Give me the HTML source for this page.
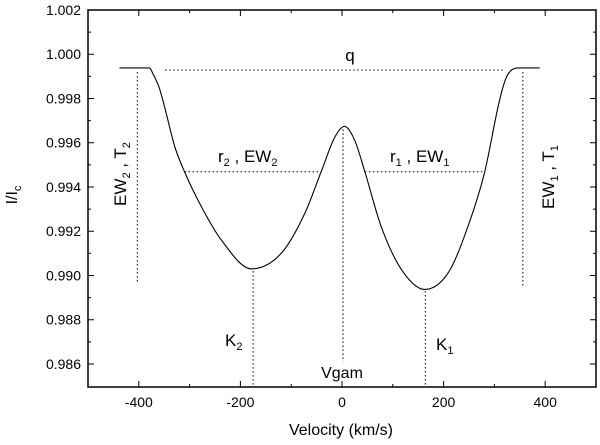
<!DOCTYPE html>
<html><head><style>
body{margin:0;background:#fff}
svg text{font-family:"Liberation Sans",Arial,sans-serif;fill:#000}
</style></head><body>
<svg width="600" height="440" viewBox="0 0 600 440">
<g id="axes"></g>
<g id="marks"></g>
<g font-size="17">
<text x="350" y="61" text-anchor="middle">q</text>
<text x="218" y="162">r<tspan font-size="11" dy="4">2</tspan><tspan dy="-4"> , EW</tspan><tspan font-size="11" dy="4">2</tspan></text>
<text x="390" y="162">r<tspan font-size="11" dy="4">1</tspan><tspan dy="-4"> , EW</tspan><tspan font-size="11" dy="4">1</tspan></text>
<text transform="translate(126,174) rotate(-90)" text-anchor="middle">EW<tspan font-size="11" dy="4">2</tspan><tspan dy="-4"> , T</tspan><tspan font-size="11" dy="4">2</tspan></text>
<text transform="translate(554,177) rotate(-90)" text-anchor="middle">EW<tspan font-size="11" dy="4">1</tspan><tspan dy="-4"> , T</tspan><tspan font-size="11" dy="4">1</tspan></text>
<text x="225" y="346">K<tspan font-size="11" dy="4">2</tspan></text>
<text x="436" y="350">K<tspan font-size="11" dy="4">1</tspan></text>
<text x="342" y="378" text-anchor="middle" font-size="16">Vgam</text>
<text x="341" y="435" text-anchor="middle" font-size="16">Velocity (km/s)</text>
<text transform="translate(17,195) rotate(-90)" text-anchor="middle" font-size="16">I/I<tspan font-size="11" dy="4">c</tspan></text>
</g>
</svg>
<script>
const velocities=[-438,-379,-372,-360,-349,-329,-310,-277,-238,-178,-119,-73,-41,-14,5,25,45,77,117,163,209,248,281,307,318,327,346,389];
const intensities=[.99938,.99938,.99911,.9985,.9976,.99581,.99469,.99312,.99162,.99030,.99102,.99282,.99469,.99626,.99674,.99611,.99469,.99222,.99027,.98937,.99012,.99222,.99469,.9976,.9986,.99911,.99938,.99938];
const xTicks=[-400,-200,0,200,400];
const yTicks=[0.986,0.988,0.990,0.992,0.994,0.996,0.998,1.000,1.002];
const L=88,R=596,T=10,B=387,X0=-500,X1=500,Y0=0.98496,Y1=1.002;
const sx=v=>L+(v-X0)/(X1-X0)*(R-L);
const sy=v=>B-(v-Y0)/(Y1-Y0)*(B-T);
const NS='http://www.w3.org/2000/svg';
const ax=document.getElementById('axes'),mk=document.getElementById('marks');
function mkEl(t,a,p){const e=document.createElementNS(NS,t);for(const k in a)e.setAttribute(k,a[k]);p.appendChild(e);return e;}
const frame=mkEl('rect',{x:L,y:T,width:R-L,height:B-T,fill:'none',stroke:'#000','stroke-width':1.5},ax);


for(let v=-500;v<=500;v+=100){const major=v%200===0;const x=sx(v);
 mkEl('line',{x1:x,x2:x,y1:B,y2:B-(major?6:3),stroke:'#000'},ax);
 mkEl('line',{x1:x,x2:x,y1:T,y2:T+(major?6:3),stroke:'#000'},ax);}
xTicks.forEach(v=>{const t=mkEl('text',{x:sx(v),y:B+20,'text-anchor':'middle','font-size':14},ax);t.textContent=v;
 
 });
for(let i=0;i<yTicks.length;i++){const y=sy(yTicks[i]);
 mkEl('line',{x1:L,x2:L+6,y1:y,y2:y,stroke:'#000'},ax);mkEl('line',{x1:R,x2:R-6,y1:y,y2:y,stroke:'#000'},ax);
 if(i<yTicks.length-1){const ym=sy(yTicks[i]+0.001);mkEl('line',{x1:L,x2:L+3,y1:ym,y2:ym,stroke:'#000'},ax);mkEl('line',{x1:R,x2:R-3,y1:ym,y2:ym,stroke:'#000'},ax);}
 const t=mkEl('text',{x:L-7,y:y+5,'text-anchor':'end','font-size':14},ax);t.textContent=yTicks[i].toFixed(3);
 
 }
// monotone cubic (Fritsch-Carlson) in pixel space
const xs=velocities.map(sx),ys=intensities.map(sy),n=xs.length;
const dl=[],m=[];
for(let i=0;i<n-1;i++)dl.push((ys[i+1]-ys[i])/(xs[i+1]-xs[i]));
m[0]=dl[0];m[n-1]=dl[n-2];
for(let i=1;i<n-1;i++)m[i]=(dl[i-1]*dl[i]<=0)?0:(dl[i-1]+dl[i])/2;
for(let i=0;i<n-1;i++){if(dl[i]===0){m[i]=0;m[i+1]=0;continue;}const a=m[i]/dl[i],b=m[i+1]/dl[i],s=a*a+b*b;if(s>9){const t=3/Math.sqrt(s);m[i]=t*a*dl[i];m[i+1]=t*b*dl[i];}}
let d='M'+xs[0]+','+ys[0];
for(let i=0;i<n-1;i++){const h=(xs[i+1]-xs[i])/3;d+=` C${xs[i]+h},${ys[i]+m[i]*h} ${xs[i+1]-h},${ys[i+1]-m[i+1]*h} ${xs[i+1]},${ys[i+1]}`;}
const line=mkEl('path',{d:d,fill:'none',stroke:'#000','stroke-width':1.1},mk);


const dots=[[-348,.99929,320,.99929],[-310,.99469,-41,.99469],[45,.99469,281,.99469],[-403,.9992,-403,.98967],[356,.9992,356,.98952],[-175,.9902,-175,.98496],[164,.9893,164,.98496],[2,.9966,2,.9861]];
dots.forEach(a=>{const l=mkEl('line',{x1:sx(a[0]),y1:sy(a[1]),x2:sx(a[2]),y2:sy(a[3]),stroke:'#000','stroke-dasharray':'1.5,2.5'},mk);
 
 });
</script>
</body></html>
